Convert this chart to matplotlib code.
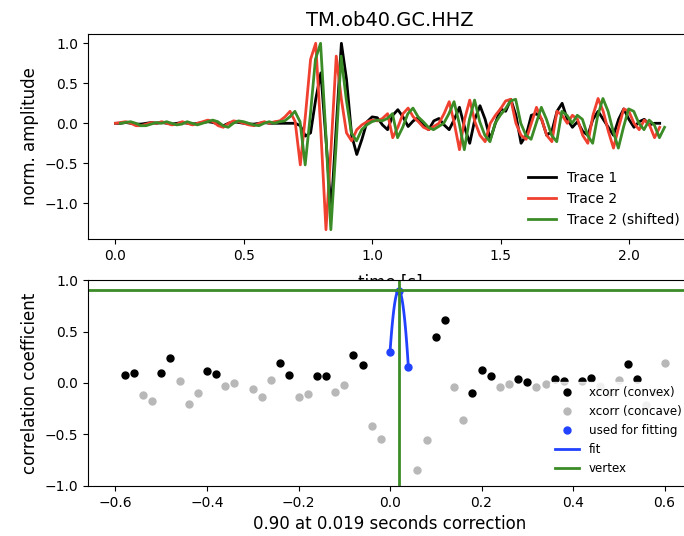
import numpy as np
import matplotlib
matplotlib.use('Agg')
from matplotlib import pyplot as plt

station = 'TM.ob40.GC.HHZ'
dt = 0.02  # sampling interval [s]

# normalised waveforms
trace1 = [0.00, 0.00, 0.01, 0.00, -0.01, -0.01, 0.00, 0.01, 0.00, 0.01,
          0.00, -0.01, 0.00, 0.01, 0.00, -0.01, 0.00, 0.01, 0.02, 0.01,
          -0.01, -0.03, 0.00, 0.02, 0.01, 0.00, -0.01, -0.01, 0.00, 0.01,
          0.00, 0.00, 0.00, 0.00, 0.00, 0.00, -0.03, -0.16, -0.12, 0.30,
          0.63, -0.20, -1.10, -0.05, 1.00, 0.55, -0.15, -0.39, -0.20, 0.02,
          0.08, 0.07, -0.02, -0.08, 0.10, 0.17, 0.08, -0.04, 0.03, 0.07,
          -0.02, -0.08, 0.03, 0.06, -0.02, -0.08, 0.05, 0.20, -0.05, -0.25,
          0.05, 0.22, 0.05, -0.20, 0.00, 0.18, 0.15, 0.30, 0.10, -0.25,
          -0.15, 0.10, 0.12, 0.05, -0.15, -0.10, 0.15, 0.25, 0.05, -0.05,
          0.02, -0.10, -0.15, 0.05, 0.15, 0.05, -0.05, -0.15, 0.05, 0.18,
          0.05, -0.05, 0.02, 0.05, -0.02, 0.00, 0.00]
trace2 = [0.00, 0.01, 0.02, 0.00, -0.03, -0.03, -0.01, 0.01, 0.00, 0.02,
          0.00, -0.02, -0.01, 0.02, 0.00, -0.02, 0.00, 0.02, 0.04, 0.02,
          -0.03, -0.05, 0.00, 0.03, 0.02, 0.00, -0.02, -0.03, 0.00, 0.02,
          0.00, 0.02, 0.03, 0.08, 0.15, 0.02, -0.52, 0.10, 0.80, 1.00,
          -0.10, -1.33, -0.30, 0.84, 0.30, -0.12, -0.22, -0.08, -0.02, 0.02,
          0.04, 0.03, 0.06, 0.12, -0.18, -0.05, 0.12, 0.19, 0.08, 0.02,
          -0.05, -0.08, -0.04, 0.00, 0.12, 0.27, 0.00, -0.33, 0.05, 0.29,
          0.02, -0.15, -0.23, 0.00, 0.10, 0.18, 0.28, 0.30, 0.00, -0.15,
          -0.20, 0.00, 0.20, 0.05, -0.15, -0.23, 0.15, 0.10, 0.00, 0.10,
          0.05, -0.15, -0.25, 0.10, 0.31, 0.15, -0.10, -0.31, -0.05, 0.18,
          0.15, 0.00, -0.08, 0.04, -0.02, -0.18, -0.05]

# cross-correlation, split by curvature
convex_lag = [-0.58, -0.56, -0.50, -0.48, -0.40, -0.38, -0.24, -0.22, -0.16, -0.14,
              -0.08, -0.06, 0.10, 0.12, 0.18, 0.20, 0.22, 0.28, 0.30, 0.36,
              0.38, 0.42, 0.44, 0.52, 0.54]
convex_cc = [0.075, 0.10, 0.10, 0.24, 0.117, 0.09, 0.19, 0.075, 0.07, 0.065,
             0.27, 0.17, 0.446, 0.61, -0.10, 0.13, 0.07, 0.036, 0.006, 0.036,
             0.02, 0.02, 0.05, 0.18, 0.04]
concave_lag = [-0.54, -0.52, -0.46, -0.44, -0.42, -0.36, -0.34, -0.30, -0.28, -0.26,
               -0.20, -0.18, -0.12, -0.10, -0.04, -0.02, 0.06, 0.08, 0.14, 0.16,
               0.24, 0.26, 0.32, 0.34, 0.46, 0.48, 0.50, 0.56, 0.58, 0.60]
concave_cc = [-0.117, -0.17, 0.016, -0.20, -0.094, -0.03, 0.0, -0.055, -0.136, 0.026,
              -0.14, -0.107, -0.09, -0.016, -0.42, -0.54, -0.84, -0.55, -0.036, -0.356,
              -0.036, -0.01, -0.04, -0.01, -0.03, -0.10, 0.03, -0.21, -0.09, 0.19]
fit_lag = [0.00, 0.02, 0.04]
fit_cc = [0.30, 0.898, 0.16]

# parabola through the three samples around the maximum
a, b, c = np.polyfit(fit_lag, fit_cc, 2)
t_shift = -b / (2 * a)
cc_max = c - b ** 2 / (4 * a)

t = np.arange(len(trace1)) * dt

fig = plt.figure(figsize=(6.84, 5.36), dpi=100)
ax1 = fig.add_axes([0.1287, 0.5541, 0.883, 0.3825])
ax1.plot(t, trace1, color='k', lw=2, label='Trace 1')
ax1.plot(t, trace2, color='#f0402f', lw=2, label='Trace 2')
ax1.plot(t + t_shift, trace2, color='#3b8c27', lw=2, label='Trace 2 (shifted)')
ax1.set_title(station, fontsize=14)
ax1.set_xlabel('time [s]', fontsize=12, labelpad=8)
ax1.set_ylabel('norm. amplitude', fontsize=12)
ax1.tick_params(labelsize=10)
ax1.legend(loc='lower right', fontsize=10, edgecolor='white')

ax2 = fig.add_axes([0.1287, 0.0933, 0.883, 0.3843])
ax2.plot(convex_lag, convex_cc, 'o', color='k', ms=5, label='xcorr (convex)')
ax2.plot(concave_lag, concave_cc, 'o', color='0.72', ms=5, label='xcorr (concave)')
ax2.plot(fit_lag, fit_cc, 'o', color='#2142ff', ms=5, label='used for fitting')
xx = np.linspace(fit_lag[0], fit_lag[-1], 50)
ax2.plot(xx, np.polyval([a, b, c], xx), color='#2142ff', lw=2, label='fit')
ax2.axvline(t_shift, color='#3b8c27', lw=2, label='vertex')
ax2.axhline(cc_max, color='#3b8c27', lw=2)
ax2.set_xlim(-0.66, 0.66)
ax2.set_ylim(-1, 1)
ax2.set_xlabel('%.2f at %.3f seconds correction' % (cc_max, t_shift), fontsize=12)
ax2.set_ylabel('correlation coefficient', fontsize=12)
ax2.tick_params(labelsize=10)
ax2.legend(loc='lower right', fontsize=8.6, edgecolor='white')

plt.savefig('out.png', dpi=100)
